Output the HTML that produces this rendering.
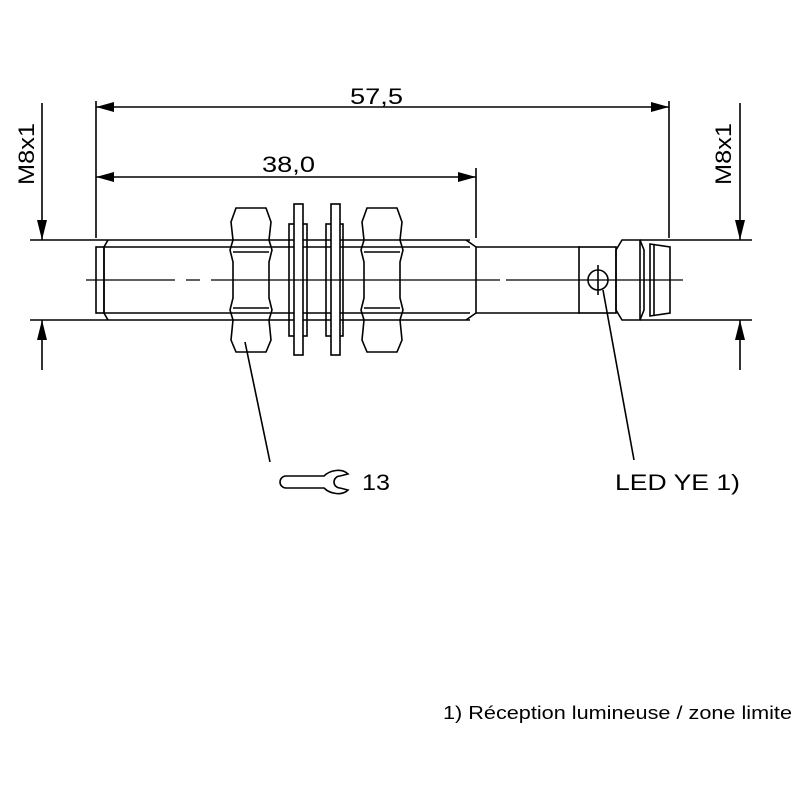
<!DOCTYPE html>
<html><head><style>body{margin:0;background:#fff}svg{display:block}</style></head><body>
<svg width="800" height="800" viewBox="0 0 800 800" xmlns="http://www.w3.org/2000/svg" font-family="Liberation Sans, sans-serif">
<g stroke="#000" stroke-width="1.6" fill="none">
<line x1="96" y1="101" x2="96" y2="238"/>
<line x1="476" y1="168" x2="476" y2="238"/>
<line x1="669" y1="101" x2="669" y2="238"/>
<line x1="96" y1="107" x2="669" y2="107"/>
<line x1="96" y1="177" x2="476" y2="177"/>
<line x1="42" y1="103" x2="42" y2="240"/>
<line x1="42" y1="370" x2="42" y2="320"/>
<line x1="30" y1="240" x2="96" y2="240"/>
<line x1="30" y1="320" x2="96" y2="320"/>
<line x1="740" y1="103" x2="740" y2="240"/>
<line x1="740" y1="370" x2="740" y2="320"/>
<line x1="640" y1="240" x2="752" y2="240"/>
<line x1="640" y1="320" x2="752" y2="320"/>
<line x1="96" y1="240" x2="470" y2="240"/>
<line x1="96" y1="320" x2="470" y2="320"/>
<line x1="104" y1="247" x2="470" y2="247"/>
<line x1="104" y1="313" x2="470" y2="313"/>
<path d="M108,240 L104,247 L104,313 L108,320"/>
<rect x="96" y="247" width="8" height="66"/>
<path d="M466,240 L476,247 L476,313 L466,320"/>
<line x1="476" y1="247" x2="580" y2="247"/>
<line x1="476" y1="313" x2="580" y2="313"/>
<rect x="579" y="247" width="37" height="66"/>
<circle cx="598" cy="280" r="10"/>
<line x1="598" y1="265" x2="598" y2="295"/>
<path d="M616,250 L622,240 L640,240 L644,250 L644,310 L640,320 L622,320 L616,310 Z"/>
<line x1="640" y1="240" x2="640" y2="320"/>
<path d="M650,244 L670,247 L670,313 L650,316 Z"/>
<line x1="654" y1="244" x2="654" y2="316"/>
<g id="nut">
<path d="M236,208 L266,208 L271,222 L269,240 L272,250 L269,262 L269,298 L272,310 L269,320 L271,340 L266,352 L236,352 L231,340 L233,320 L230,310 L233,298 L233,262 L230,250 L233,240 L231,222 Z"/>
<line x1="233" y1="252" x2="269" y2="252"/>
<line x1="233" y1="308" x2="269" y2="308"/>
</g>
<use href="#nut" transform="translate(131,0)"/>
<rect x="289" y="224" width="18" height="112"/>
<rect x="294" y="204" width="9" height="151" fill="#fff"/>
<rect x="326" y="224" width="17" height="112"/>
<rect x="331" y="204" width="9" height="151" fill="#fff"/>
<path d="M86,280 H175 M186,280 H200 M211,280 H500 M506,280 H683" stroke-width="1.2"/>
<line x1="245" y1="342" x2="270" y2="462"/>
<line x1="603" y1="290" x2="634" y2="460"/>
<path d="M324,476 L286,476 A6,6 0 0 0 286,488 L324,488 C330,494 342,496 348,490 L340,488 A5,5 0 0 1 340,476 L348,474 C342,468 330,470 324,476 Z"/>
</g>
<g fill="#000">
<path d="M96,107 l18,-5 v10z M669,107 l-18,-5 v10z M96,177 l18,-5 v10z M476,177 l-18,-5 v10z"/>
<path d="M42,240 l-5,-20 h10z M42,320 l-5,20 h10z M740,240 l-5,-20 h10z M740,320 l-5,20 h10z"/>
</g>
<g font-size="22" fill="#000">
<text x="350" y="104" textLength="53" lengthAdjust="spacingAndGlyphs">57,5</text>
<text x="262" y="172" textLength="53" lengthAdjust="spacingAndGlyphs">38,0</text>
<text x="362" y="490" textLength="28" lengthAdjust="spacingAndGlyphs">13</text>
<text x="615" y="490" textLength="125" lengthAdjust="spacingAndGlyphs">LED YE 1)</text>
<text transform="translate(34,185) rotate(-90)" textLength="62" lengthAdjust="spacingAndGlyphs">M8x1</text>
<text transform="translate(731,185) rotate(-90)" textLength="62" lengthAdjust="spacingAndGlyphs">M8x1</text>
</g>
<text x="443" y="719" font-size="18" textLength="349" lengthAdjust="spacingAndGlyphs">1) Réception lumineuse / zone limite</text>
</svg>
</body></html>
